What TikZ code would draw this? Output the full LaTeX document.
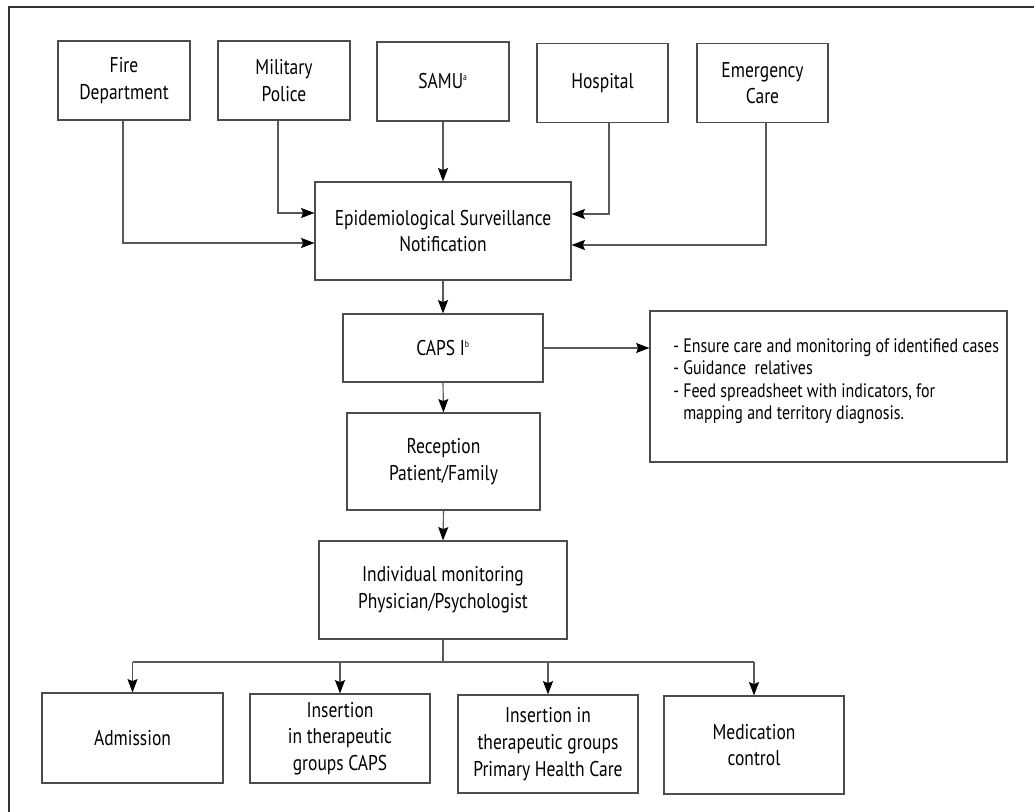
\documentclass[tikz,border=0pt]{standalone}
\usepackage{fontspec}
\setmainfont{PT Sans}[FakeStretch=0.82]
\usetikzlibrary{arrows.meta,calc}
\begin{document}
\begin{tikzpicture}[x=0.75pt,y=-0.75pt,
  box/.style={draw=black!70, line width=0.85pt, align=center, inner sep=0pt,
    font=\fontsize{16}{20}\selectfont, text=black},
  sz/.style 2 args={minimum width=#1*0.75pt, minimum height=#2*0.75pt},
  ln/.style={draw=black!65, line width=0.85pt},
  arr/.style={ln, -{Stealth[length=10pt,width=7.5pt,inset=1.5pt,color=black]}}]
\useasboundingbox (0,0) rectangle (1034,812);
\clip (0,0) rectangle (1034,812);
\draw[black!80, line width=1.5pt] (9,7) rectangle (1080,860);

% top row
\node[box,sz={132}{79}] (fire) at (124,80.5) {Fire\\Department};
\node[box,sz={132}{79}] (mil)  at (284,80.5) {Military\\Police};
\node[box,sz={132}{79}] (samu) at (443,81.5) {SAMU\textsuperscript{\scriptsize a}};
\node[box,sz={131}{79}] (hosp) at (602.5,83) {Hospital};
\node[box,sz={131}{79}] (emer) at (762.5,83) {Emergency\\Care};

% central column
\node[box,sz={256}{98}] (epi) at (443,231) {Epidemiological Surveillance\\Notification};
\node[box,sz={200}{68}] (caps) at (443,348) {CAPS I\textsuperscript{\scriptsize b}};
\node[box,sz={357}{151}] (info) at (828.5,386.5) {};
\node[anchor=west, align=left, inner sep=0pt, text=black,
  font=\fontsize{14.6}{16.8}\selectfont] (infotext) at (673,381)
  {- Ensure care and monitoring of identified cases\\
   - Guidance\ \ relatives\\
   - Feed spreadsheet with indicators, for\\
   \phantom{- }mapping and territory diagnosis.};
\node[box,sz={193}{97}] (rec) at (443.5,461.5) {Reception\\Patient/Family};
\node[box,sz={248}{98}] (ind) at (443,590) {Individual monitoring\\Physician/Psychologist};

% bottom row
\node[box,sz={181}{90}] (adm)  at (132.5,738) {Admission};
\node[box,sz={180}{89}] (ins1) at (340,738.5) {Insertion\\in therapeutic\\groups CAPS};
\node[box,sz={180}{98}] (ins2) at (548,744) {Insertion in\\therapeutic groups\\Primary Health Care};
\node[box,sz={180}{98}] (med)  at (754,745) {Medication\\control};

% connectors into epi
\draw[arr] ($(fire.south)+(-1,0)$) |- ($(epi.west)+(0,12)$);
\draw[arr] ($(mil.south)+(-6,0)$) |- ($(epi.west)+(0,-18)$);
\draw[arr] (samu.south) -- (epi.north);
\draw[arr] ($(hosp.south)+(6.5,0)$) |- ($(epi.east)+(0,-17)$);
\draw[arr] ($(emer.south)+(3.5,0)$) |- ($(epi.east)+(0,14)$);

% column
\draw[arr] (epi.south) -- (caps.north);
\draw[arr] (caps.east) -- (caps.east -| info.west);
\draw[arr] (caps.south) -- (rec.north);
\draw[arr] (rec.south) -- (ind.north);

% branching
\coordinate (br) at (443,662);
\draw[ln] (ind.south) -- (br);
\draw[ln] (adm.north |- br) -- (med.north |- br);
\draw[arr] (adm.north |- br) -- (adm.north);
\draw[arr] (ins1.north |- br) -- (ins1.north);
\draw[arr] (ins2.north |- br) -- (ins2.north);
\draw[arr] (med.north |- br) -- (med.north);
\end{tikzpicture}
\end{document}
